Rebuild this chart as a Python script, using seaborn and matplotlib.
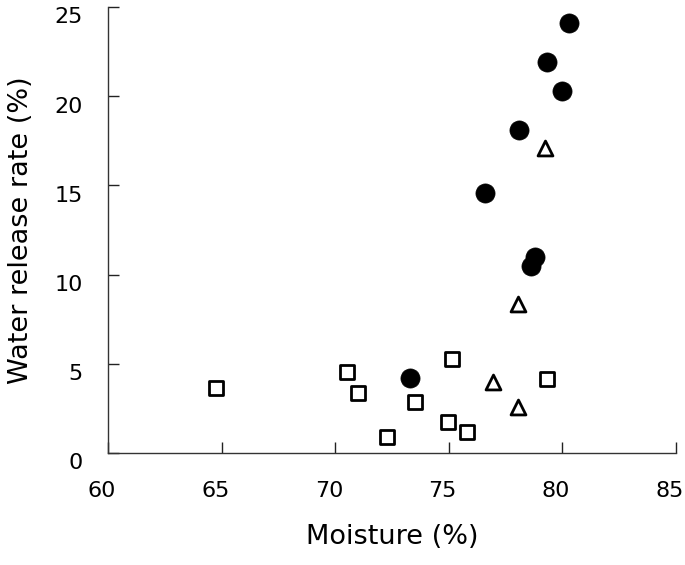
import pandas as pd
import seaborn as sns
import matplotlib.pyplot as plt
from matplotlib.transforms import ScaledTranslation

# filled circles
circle_moisture = [80.3, 79.3, 80.0, 78.1, 76.6, 78.8, 78.6, 73.3]
circle_release = [24.1, 21.9, 20.3, 18.1, 14.6, 11.0, 10.5, 4.2]

# open triangles
triangle_moisture = [79.25, 78.05, 76.95, 78.05]
triangle_release = [17.1, 8.35, 4.0, 2.6]

# open squares
square_moisture = [64.75, 70.5, 71.0, 73.5, 72.3, 75.15, 74.95, 75.8, 79.3]
square_release = [3.65, 4.55, 3.35, 2.85, 0.9, 5.25, 1.75, 1.2, 4.15]

x_ticks = [60, 65, 70, 75, 80, 85]
y_ticks = [0, 5, 10, 15, 20, 25]


def main():
    sns.set_style("white")
    plt.rcParams['font.family'] = ['DejaVu Sans', 'Noto Sans CJK JP']
    plt.rcParams['text.color'] = 'black'
    plt.rcParams['axes.labelcolor'] = 'black'

    circles = pd.DataFrame({"Moisture": circle_moisture, "Release": circle_release})
    triangles = pd.DataFrame({"Moisture": triangle_moisture, "Release": triangle_release})
    squares = pd.DataFrame({"Moisture": square_moisture, "Release": square_release})

    fig = plt.figure(figsize=(6.85, 5.65), dpi=100)
    ax = fig.add_axes([0.1577, 0.1982, 0.8292, 0.7894])

    sns.scatterplot(data=squares, x="Moisture", y="Release", marker="s", s=88,
                    color="white", edgecolor="black", linewidth=2, ax=ax, zorder=3)
    sns.scatterplot(data=triangles, x="Moisture", y="Release", marker="^", s=115,
                    color="white", edgecolor="black", linewidth=2, ax=ax, zorder=3)
    sns.scatterplot(data=circles, x="Moisture", y="Release", marker="o", s=190,
                    color="black", edgecolor="black", linewidth=0.5, ax=ax, zorder=4)

    ax.set_xlim(60, 85)
    ax.set_ylim(0, 25)
    ax.set_xticks(x_ticks)
    ax.set_yticks(y_ticks)
    ax.tick_params(bottom=True, left=True, direction="in", length=8, width=1,
                   colors="#222222", labelsize=16, labelcolor="black")
    ax.tick_params(axis="x", pad=20)
    ax.tick_params(axis="y", pad=18)
    sns.despine(ax=ax)
    for side in ["left", "bottom"]:
        ax.spines[side].set_color("#333333")
        ax.spines[side].set_linewidth(1)

    # tick labels sit a little off their ticks in the original
    yshift = ScaledTranslation(0, -6 / 72, fig.dpi_scale_trans)
    for lab in ax.get_yticklabels():
        lab.set_transform(lab.get_transform() + yshift)
    xshift = ScaledTranslation(-4.5 / 72, 0, fig.dpi_scale_trans)
    for lab in ax.get_xticklabels():
        lab.set_transform(lab.get_transform() + xshift)

    ax.set_xlabel("Moisture (%)", fontsize=19.5, labelpad=17)
    ax.set_ylabel("Water release rate (%)", fontsize=19.5, labelpad=15)

    plt.savefig("out.png", dpi=100)


if __name__ == '__main__':
    main()
